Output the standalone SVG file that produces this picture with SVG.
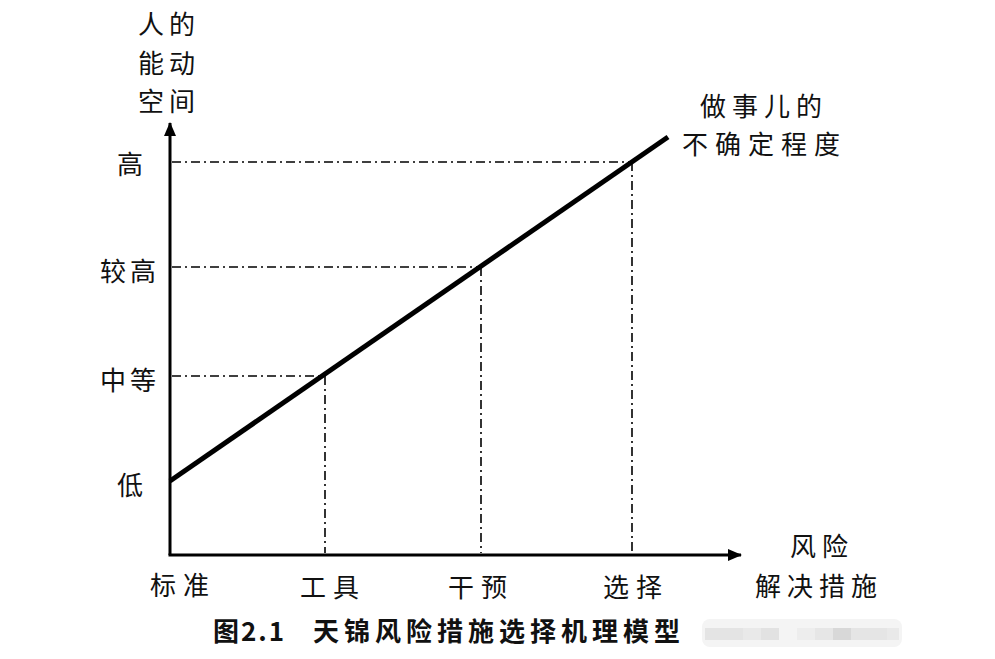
<svg xmlns="http://www.w3.org/2000/svg" width="995" height="659" viewBox="0 0 995 659">
<style>
  .t{font-family:"Noto Sans CJK SC","Liberation Sans",sans-serif;font-size:26px;fill:#111;}
  .ax{stroke:#000;stroke-width:3;fill:none;}
  .dd{stroke:#000;stroke-width:1.6;fill:none;stroke-dasharray:9 4 2 4;}
  .main{stroke:#000;stroke-width:5;fill:none;stroke-linecap:butt;}
</style>
<defs>
  <marker id="arr" markerWidth="14" markerHeight="12" refX="13" refY="6" orient="auto" markerUnits="userSpaceOnUse">
    <path d="M0,0 L14,6 L0,12 Z" fill="#000"/>
  </marker>
</defs>
<rect width="995" height="659" fill="#fff"/>
<g id="connectors">
  <line class="dd" x1="172" y1="162" x2="632" y2="162"/>
  <line class="dd" x1="172" y1="267" x2="481" y2="267"/>
  <line class="dd" x1="172" y1="376" x2="325" y2="376"/>
  <line class="dd" x1="325" y1="376" x2="325" y2="553"/>
  <line class="dd" x1="481" y1="267" x2="481" y2="553"/>
  <line class="dd" x1="632" y1="162" x2="632" y2="553"/>
  <line class="main" x1="170" y1="481" x2="668" y2="137"/>
  <line class="ax" x1="170" y1="555" x2="170" y2="123" marker-end="url(#arr)"/>
  <line class="ax" x1="168.5" y1="555" x2="741" y2="555" marker-end="url(#arr)"/>
</g>
<g id="y-title">
  <text class="t" x="138" y="34" font-size="27" letter-spacing="5">人的</text>
  <text class="t" x="138" y="73" font-size="27" letter-spacing="5">能动</text>
  <text class="t" x="138" y="111" font-size="27" letter-spacing="5">空间</text>
</g>
<g id="y-labels">
  <text class="t" x="117" y="174" font-size="25">高</text>
  <text class="t" x="100" y="281" font-size="25" letter-spacing="4">较高</text>
  <text class="t" x="100" y="390" font-size="25" letter-spacing="4">中等</text>
  <text class="t" x="117" y="495" font-size="25">低</text>
</g>
<g id="line-label">
  <text class="t" x="700" y="116" font-size="27" letter-spacing="6">做事儿的</text>
  <text class="t" x="682" y="154" font-size="27" letter-spacing="7">不确定程度</text>
</g>
<g id="x-labels">
  <text class="t" x="150" y="595" letter-spacing="7">标准</text>
  <text class="t" x="300" y="597" letter-spacing="7">工具</text>
  <text class="t" x="448" y="597" letter-spacing="7">干预</text>
  <text class="t" x="603" y="597" letter-spacing="7">选择</text>
</g>
<g id="x-title">
  <text class="t" x="790" y="556" letter-spacing="6">风险</text>
  <text class="t" x="755" y="596" font-size="27" letter-spacing="6">解决措施</text>
</g>
<g id="caption">
  <text class="t" x="213" y="641" font-size="25" font-weight="600" letter-spacing="2">图2.1</text>
  <text class="t" x="313" y="641" font-size="25" font-weight="600" letter-spacing="5">天锦风险措施选择机理模型</text>
</g>
<g id="watermark">
  <rect x="702" y="619" width="200" height="28" rx="8" fill="#f4f4f4"/>
  <rect x="705" y="628" width="38" height="12" fill="#e4e4e4"/>
  <rect x="743" y="628" width="18" height="12" fill="#e9e9e9"/>
  <rect x="761" y="628" width="18" height="12" fill="#e2e2e2"/>
  <rect x="797" y="628" width="18" height="12" fill="#ededed"/>
  <rect x="815" y="628" width="18" height="12" fill="#e6e6e6"/>
  <rect x="833" y="628" width="18" height="12" fill="#d8d8d8"/>
  <rect x="851" y="628" width="36" height="12" fill="#e5e5e5"/>
  <rect x="887" y="628" width="12" height="12" fill="#e9e9e9"/>
</g>
</svg>
